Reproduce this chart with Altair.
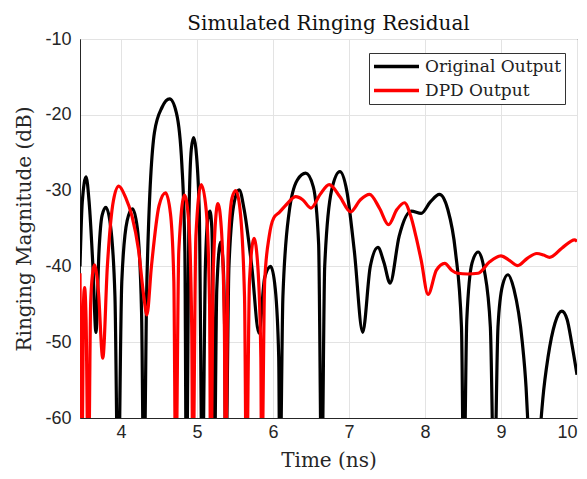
import altair as alt
import pandas as pd

orig_x = [3.46, 3.49, 3.54, 3.58, 3.63, 3.67, 3.71, 3.75, 3.80, 3.86, 3.92, 3.96,
          4.01, 4.08, 4.15, 4.215, 4.27, 4.30, 4.34, 4.44, 4.54, 4.64, 4.73, 4.80,
          4.84, 4.86, 4.895, 4.925, 4.955, 4.985, 5.03, 5.07, 5.11, 5.145, 5.17, 5.195,
          5.21, 5.225, 5.26, 5.31, 5.345, 5.365, 5.375, 5.42, 5.49, 5.555, 5.62,
          5.72, 5.815, 5.89, 5.97, 6.03, 6.075, 6.09, 6.13, 6.21, 6.32, 6.43, 6.53,
          6.60, 6.64, 6.68, 6.77, 6.88, 6.97, 7.07, 7.18, 7.28, 7.38, 7.46, 7.54,
          7.66, 7.82, 7.95, 8.07, 8.19, 8.30, 8.40, 8.48, 8.51, 8.55, 8.62, 8.70,
          8.78, 8.86, 8.91, 8.96, 9.02, 9.09, 9.17, 9.28, 9.33, 9.36, 9.44, 9.50,
          9.55, 9.62, 9.71, 9.80, 9.87, 9.93, 10.0]
orig_y = [-40, -31.5, -28.2, -31.5, -40, -48.7, -38, -33.3, -32.2, -34.5, -44, -70,
          -42, -34, -32.4, -35, -46, -70, -42, -22.3, -19.0, -17.9, -19.8, -26.5,
          -38, -70, -33, -24.5, -23.0, -24.5, -33, -70, -40, -33.5, -32.7, -35,
          -45, -70, -43, -36.8, -40, -50, -70, -40, -31.5, -29.9, -32.5,
          -40, -48.8, -41.5, -40.0, -43, -52, -70, -44, -33, -28.6, -27.7, -29.5,
          -37, -70, -40, -30, -27.5, -30, -38, -48.7, -40, -37.5, -39.5, -42.2,
          -36, -32.7, -33.0, -31.5, -30.5, -32.5, -38, -48, -70, -47, -39.5, -38.1,
          -40.5, -48, -70, -48, -42.5, -41.1, -43, -50, -56, -62, -75, -64,
          -57.5, -51.9, -47.5, -45.9, -47, -50.1, -54.3]

dpd_x = [3.46, 3.485, 3.505, 3.52, 3.54, 3.57, 3.60, 3.625, 3.65, 3.70, 3.76, 3.82,
         3.90, 3.97, 4.06, 4.145, 4.23, 4.30, 4.34, 4.40, 4.50, 4.585, 4.65, 4.695,
         4.72, 4.76, 4.835, 4.89, 4.93, 4.945, 4.985, 5.055, 5.12, 5.165, 5.18, 5.215,
         5.275, 5.32, 5.36, 5.375, 5.41, 5.46, 5.51, 5.56, 5.625, 5.65, 5.69, 5.75,
         5.80, 5.84, 5.85, 5.89, 5.95, 6.01, 6.08, 6.18, 6.30, 6.39, 6.50, 6.62,
         6.74, 6.88, 7.02, 7.15, 7.27, 7.40, 7.52, 7.63, 7.73, 7.81, 7.88, 7.95,
         8.04, 8.15, 8.26, 8.35, 8.43, 8.56, 8.70, 8.85, 9.00, 9.11, 9.22, 9.35,
         9.47, 9.56, 9.64, 9.80, 9.97, 10.0]
dpd_y = [-40.9, -70, -45, -42.8, -47, -70, -45, -41, -39.8, -43, -52.1, -40,
         -31.3, -29.4, -30.9, -33.4, -37.8, -44, -46.4, -40, -32, -30.3, -33, -42,
         -70, -38, -30.6, -34, -48, -70, -36, -29.2, -32.5, -45, -70, -40,
         -31.7, -35, -48, -70, -38, -31, -30.0, -32, -44, -70, -42, -36.3,
         -40, -52, -70, -42, -36, -33.6, -32.9, -31.8, -30.8, -31.2, -32.3, -30.5,
         -29.2, -30.8, -32.8, -31.2, -30.5, -32.3, -34.5, -32.5, -31.6, -33.3, -36.0, -39.2,
         -43.7, -40.5, -39.6, -40.5, -40.9, -41.0, -40.9, -39.4, -38.6, -39.2, -39.9, -38.9,
         -38.3, -38.5, -38.8, -37.6, -36.5, -36.7]

series = ["Original Output", "DPD Output"]
colors = ["#000000", "#ff0000"]
x_ticks = [4, 5, 6, 7, 8, 9, 10]
y_ticks = [-60, -50, -40, -30, -20, -10]

df = pd.concat([
    pd.DataFrame({"t": orig_x, "v": orig_y, "s": series[0], "o": 0}),
    pd.DataFrame({"t": dpd_x, "v": dpd_y, "s": series[1], "o": 1}),
])

SERIF = "DejaVu Serif"
SANS = "Liberation Sans"

chart = alt.Chart(df).mark_line(
    strokeWidth=3.2, clip=True, interpolate="monotone"
).encode(
    x=alt.X("t:Q", scale=alt.Scale(domain=[3.46, 10], nice=False, zero=False),
            axis=alt.Axis(values=x_ticks, title="Time (ns)",
                          labelExpr="'' + datum.value", labelPadding=5,
                          titlePadding=9)),
    y=alt.Y("v:Q", scale=alt.Scale(domain=[-60, -10], nice=False, zero=False),
            axis=alt.Axis(values=y_ticks, title="Ringing Magnitude (dB)",
                          labelExpr="'' + datum.value", labelPadding=9,
                          labelFlush=False, titlePadding=10)),
    color=alt.Color("s:N", scale=alt.Scale(domain=series, range=colors),
                    legend=alt.Legend(
                        title=None, orient="none", legendX=289, legendY=14,
                        symbolType="stroke", symbolSize=2025, symbolStrokeWidth=3.5,
                        clipHeight=21, labelFont=SERIF, labelFontSize=17,
                        labelColor="#222", strokeColor="#333", fillColor="white",
                        padding=3, labelOffset=4, rowPadding=3)),
    detail="o:N",
).properties(
    width=497, height=379,
    title=alt.TitleParams("Simulated Ringing Residual", font=SERIF, fontSize=20,
                          fontWeight="normal", color="#111", offset=-4),
    padding={"left": 72, "top": 31, "right": 2, "bottom": 53},
    autosize=alt.AutoSizeParams(type="none"),
).configure_view(
    stroke="#262626", strokeWidth=1
).configure_axis(
    labelFont=SANS, labelFontSize=18, labelColor="#262626",
    titleFont=SERIF, titleFontSize=20, titleFontWeight="normal", titleColor="#262626",
    grid=True, gridColor="#e3e3e3", gridWidth=1,
    domainColor="#262626", ticks=False,
)

chart.save("out.html", embed_options={"renderer": "svg", "actions": False})
